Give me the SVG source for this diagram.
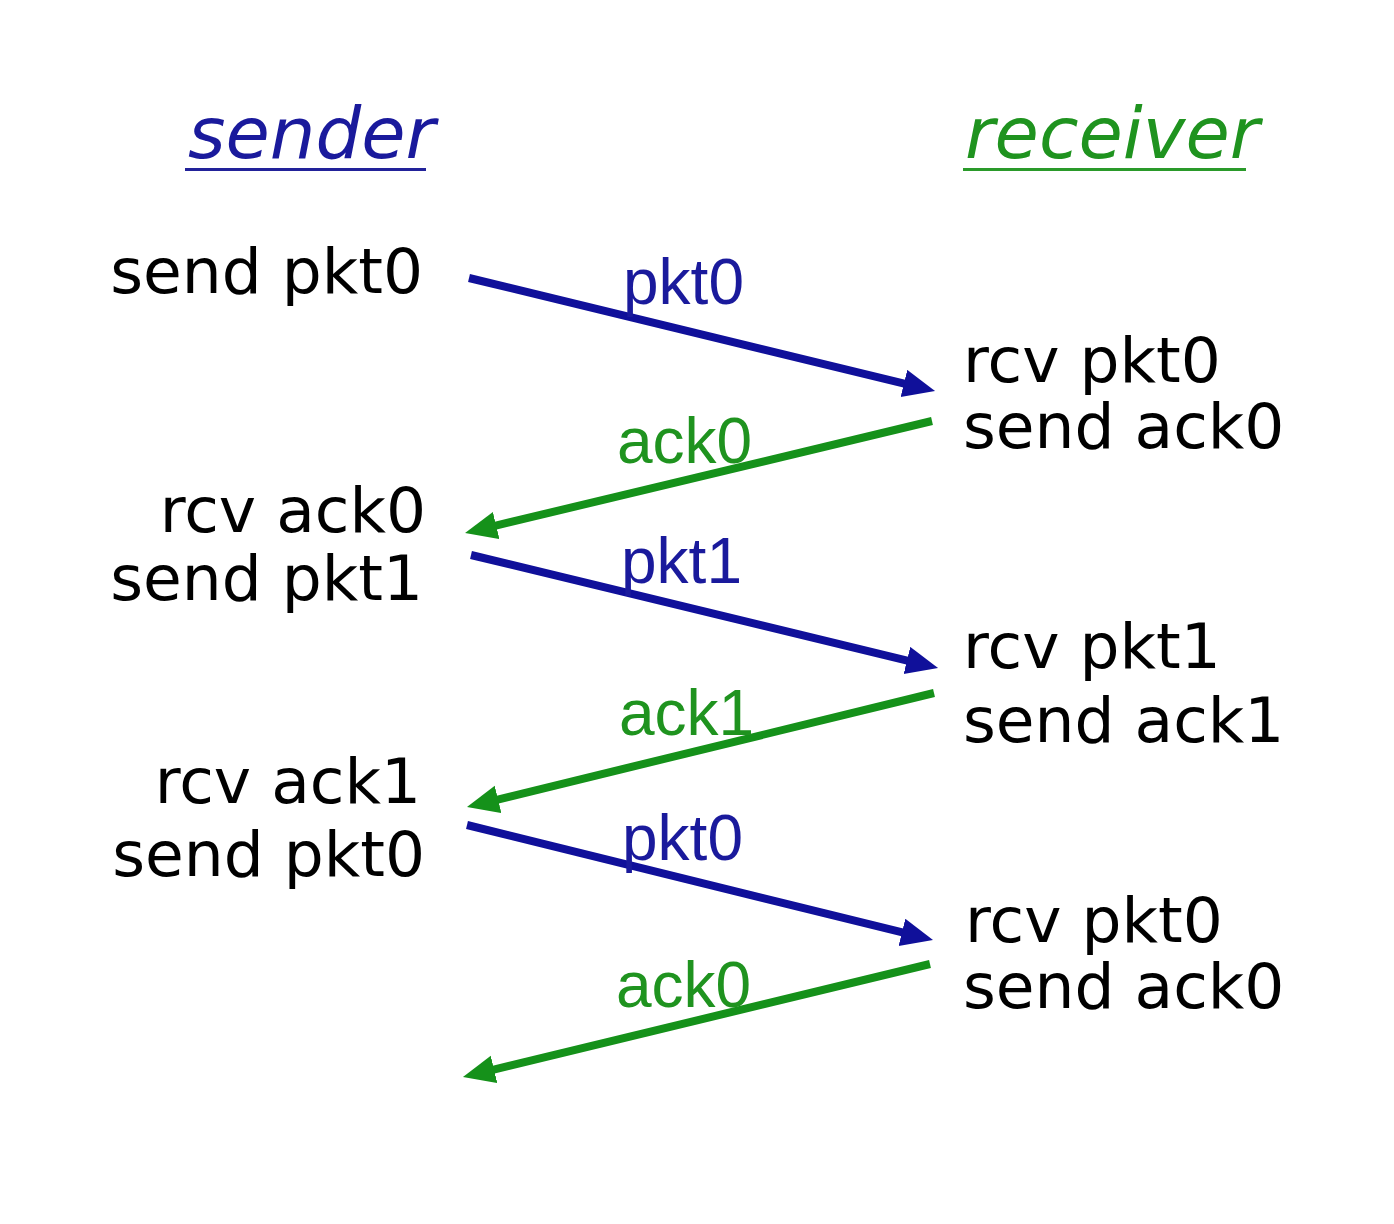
<svg xmlns="http://www.w3.org/2000/svg" width="1394" height="1224" viewBox="0 0 1394 1224">
<style>
.t{font-family:"DejaVu Sans","Liberation Sans",sans-serif;font-size:63px;fill:#000}
.l{text-anchor:end}
.lab{font-family:"Liberation Sans",Arial,sans-serif;font-size:64px}
.blue{fill:#1a1a9c}
.green{fill:#1f931f}
.title{font-family:"DejaVu Sans","Liberation Sans",sans-serif;font-size:72px;font-style:italic}
.pkt{stroke:#10109a;stroke-width:8;fill:none}
.ack{stroke:#15911a;stroke-width:8;fill:none}
</style>
<defs>
<marker id="hb" markerUnits="userSpaceOnUse" markerWidth="34" markerHeight="30" refX="12" refY="14" orient="auto"><path d="M0,0 L32,14 L0,28 Z" fill="#10109a"/></marker>
<marker id="hg" markerUnits="userSpaceOnUse" markerWidth="34" markerHeight="30" refX="12" refY="14" orient="auto"><path d="M0,0 L32,14 L0,28 Z" fill="#15911a"/></marker>
</defs>
<rect width="1394" height="1224" fill="#fff"/>
<g id="sender-title">
<text class="title blue" x="188" y="158" fill="#22229a">sender</text>
<rect x="185" y="168" width="241" height="3" fill="#22229a"/>
</g>
<g id="receiver-title">
<text class="title green" x="965" y="158" fill="#2a9a2a">receiver</text>
<rect x="963" y="168" width="283" height="3" fill="#2a9a2a"/>
</g>
<g id="s1"><text class="t l" x="423" y="293">send pkt0</text></g>
<g id="s2"><text class="t l" x="426" y="532">rcv ack0</text><text class="t l" x="423" y="600">send pkt1</text></g>
<g id="s3"><text class="t l" x="421" y="803">rcv ack1</text><text class="t l" x="425" y="876">send pkt0</text></g>
<g id="r1"><text class="t" x="963" y="382">rcv pkt0</text><text class="t" x="963" y="448">send ack0</text></g>
<g id="r2"><text class="t" x="963" y="668">rcv pkt1</text><text class="t" x="963" y="742">send ack1</text></g>
<g id="r3"><text class="t" x="965" y="942">rcv pkt0</text><text class="t" x="963" y="1008">send ack0</text></g>
<g id="connectors">
<line class="pkt" x1="469" y1="278" x2="915.6" y2="386.3" marker-end="url(#hb)"/>
<line class="ack" x1="932" y1="421" x2="484.5" y2="528.3" marker-end="url(#hg)"/>
<line class="pkt" x1="471" y1="555" x2="918.6" y2="663.3" marker-end="url(#hb)"/>
<line class="ack" x1="934" y1="693" x2="486.4" y2="802.3" marker-end="url(#hg)"/>
<line class="pkt" x1="467" y1="825" x2="913.6" y2="935.2" marker-end="url(#hb)"/>
<line class="ack" x1="930" y1="964" x2="482.4" y2="1072.3" marker-end="url(#hg)"/>
<text class="lab blue" x="623" y="304">pkt0</text>
<text class="lab green" x="617" y="463">ack0</text>
<text class="lab blue" x="621" y="583">pkt1</text>
<text class="lab green" x="619" y="735">ack1</text>
<text class="lab blue" x="622" y="860">pkt0</text>
<text class="lab green" x="616" y="1007">ack0</text>
</g>
</svg>
